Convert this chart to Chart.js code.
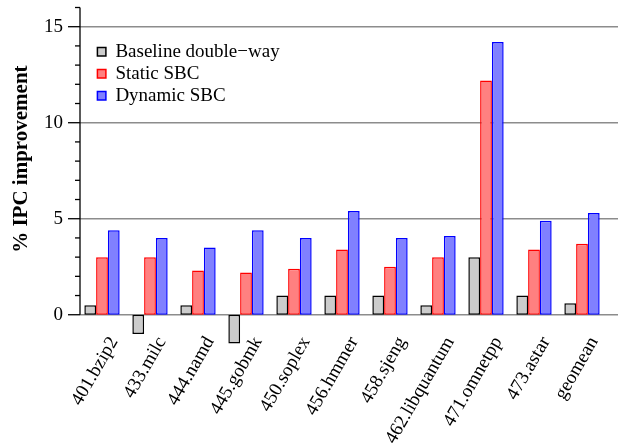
<!DOCTYPE html>
<html><head><meta charset="utf-8">
<script src="https://cdn.jsdelivr.net/npm/chart.js@4"></script>
<style>html,body{margin:0;padding:0;background:#fff}#wrap{width:623px;height:445px;position:relative}</style>
</head><body><div id="wrap"><canvas id="c"></canvas></div>
<script>
const categories = ['401.bzip2','433.milc','444.namd','445.gobmk','450.soplex','456.hmmer','458.sjeng','462.libquantum','471.omnetpp','473.astar','geomean'];
const baselineDoubleWay = [0.5,-1.0,0.5,-1.5,1.0,1.0,1.0,0.5,3.0,1.0,0.6];
const staticSBC = [3.0,3.0,2.3,2.2,2.4,3.4,2.5,3.0,12.2,3.4,3.7];
const dynamicSBC = [4.4,4.0,3.5,4.4,4.0,5.4,4.0,4.1,14.2,4.9,5.3];
const seriesNames = ['Baseline double\u2212way','Static SBC','Dynamic SBC'];
const yTickValues = [0,1,2,3,4,5,6,7,8,9,10,11,12,13,14,15,16];
const yLabelValues = [0,5,10,15];
const yMin = -1.05, yMax = 16;
const yTitle = '% IPC improvement';

const FONT = '"Liberation Serif", "Times New Roman", serif';

const decoPlugin = {
  id: 'deco',
  afterLayout(chart) {
    const lg = chart.legend;
    if (lg) {
      lg.left = 94.4; lg.top = 39.2;
      lg.right = lg.left + lg.width; lg.bottom = lg.top + lg.height;
    }
  },
  beforeDatasetsDraw(chart) {
    const {ctx, chartArea, scales: {y}} = chart;
    const ax = chartArea.left + 2;
    const right = chartArea.right + 12;
    ctx.save();
    ctx.lineCap = 'butt';
    ctx.strokeStyle = '#8c8c8c'; ctx.lineWidth = 1.5;
    yLabelValues.forEach(v => {
      const py = y.getPixelForValue(v);
      ctx.beginPath(); ctx.moveTo(ax, py); ctx.lineTo(right, py); ctx.stroke();
    });
    ctx.strokeStyle = '#000'; ctx.lineWidth = 1.3;
    ctx.beginPath(); ctx.moveTo(ax, y.getPixelForValue(yMax)); ctx.lineTo(ax, y.getPixelForValue(0)); ctx.stroke();
    yTickValues.forEach(v => {
      const py = y.getPixelForValue(v);
      const len = yLabelValues.includes(v) ? 12 : 5;
      ctx.beginPath(); ctx.moveTo(ax - len, py); ctx.lineTo(ax, py); ctx.stroke();
    });
    ctx.restore();
  },
  afterDraw(chart) {
    const {ctx, scales: {y}} = chart;
    const cy = (y.getPixelForValue(yMax) + y.getPixelForValue(0)) / 2 - 2;
    ctx.save();
    ctx.font = 'bold 21px ' + FONT;
    ctx.fillStyle = '#000';
    ctx.translate(22, cy);
    ctx.rotate(-Math.PI / 2);
    ctx.textAlign = 'center'; ctx.textBaseline = 'middle';
    ctx.fillText(yTitle, 0, 0);
    ctx.restore();
  }
};

const barStyle = {borderWidth: 1.5, borderSkipped: false, clip: false};

new Chart(document.getElementById('c'), {
  type: 'bar',
  data: {
    labels: categories,
    datasets: [
      Object.assign({label: seriesNames[0], data: baselineDoubleWay, backgroundColor: '#cccccc', borderColor: '#000000'}, barStyle),
      Object.assign({label: seriesNames[1], data: staticSBC, backgroundColor: '#ff8080', borderColor: '#ff0000'}, barStyle),
      Object.assign({label: seriesNames[2], data: dynamicSBC, backgroundColor: '#8080ff', borderColor: '#0000ff'}, barStyle)
    ]
  },
  options: {
    responsive: true, maintainAspectRatio: false, animation: false, devicePixelRatio: 1,
    layout: {padding: {top: 7.5, right: 17, bottom: 0, left: 0}},
    datasets: {bar: {categoryPercentage: 0.736, barPercentage: 1.0}},
    plugins: {
      tooltip: {enabled: false},
      legend: {
        position: 'chartArea', align: 'start',
        labels: {boxWidth: 8.5, boxHeight: 8.5, padding: 3, color: '#000', font: {family: FONT, size: 19}}
      }
    },
    scales: {
      x: {
        grid: {display: false, drawTicks: false}, border: {display: false},
        ticks: {color: '#000', font: {family: FONT, size: 19}, minRotation: 60, maxRotation: 60, autoSkip: false, padding: -2, labelOffset: 12},
        afterFit(s) { s.height = 110.1; s.paddingLeft = 0; s.paddingRight = 0; }
      },
      y: {
        min: yMin, max: yMax,
        grid: {display: false, drawTicks: false}, border: {display: false},
        afterBuildTicks(s) { s.ticks = yTickValues.map(v => ({value: v})); },
        ticks: {autoSkip: false, color: '#000', padding: 15, font: {family: FONT, size: 19},
          callback: (v) => yLabelValues.includes(v) ? String(v) : ''},
        afterFit(s) { s.width = 78; s.paddingTop = 0; s.paddingBottom = 0; }
      }
    }
  },
  plugins: [decoPlugin]
});
</script></body></html>
